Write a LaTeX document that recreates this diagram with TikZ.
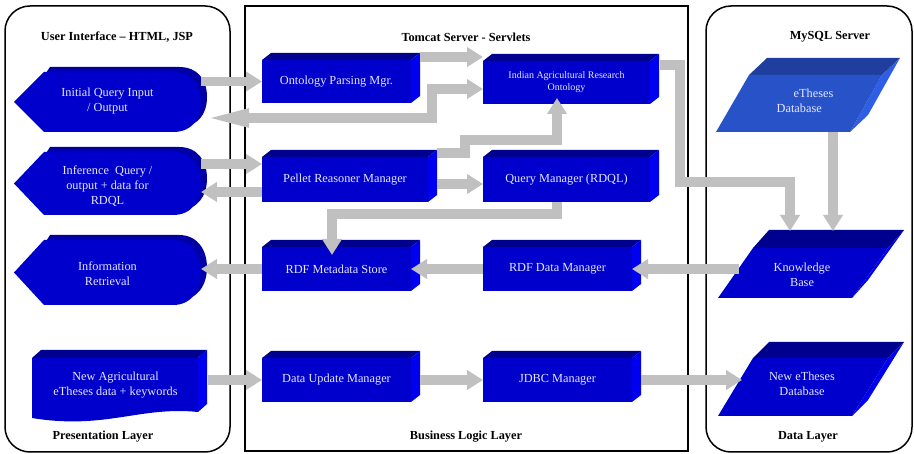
\documentclass[tikz,border=0pt]{standalone}
\usepackage{fontspec}
\setmainfont{Liberation Serif}
\usetikzlibrary{arrows.meta,calc,backgrounds}

\definecolor{boxfront}{HTML}{0000CC}
\definecolor{boxtop}{HTML}{00008E}
\definecolor{boxside}{HTML}{0000F0}
\definecolor{dispback}{HTML}{0000A6}
\definecolor{dbfront}{HTML}{2852C8}
\definecolor{dbtop}{HTML}{1F3E9E}
\definecolor{dbside}{HTML}{2E5EE6}
\definecolor{txt}{HTML}{E6E6FF}
\definecolor{flowgray}{HTML}{C0C0C0}

% display shape: pointed left end, rounded right end
% #1 tip x, #2 corner x, #3 right x, #4 top y, #5 bottom y, #6 colour
\newcommand\dispshape[6]{%
  \pgfmathsetmacro\dmid{(#4+#5)/2}%
  \fill[#6] (#1,\dmid) -- (#2,#4) -- (#3-28,#4)
    .. controls (#3-9,#4) and (#3,\dmid-17) .. (#3,\dmid)
    .. controls (#3,\dmid+17) and (#3-9,#5) .. (#3-28,#5)
    -- (#2,#5) -- cycle;}

\tikzset{
  flow/.style={line width=9.5pt, draw=flowgray, line join=miter,
    -{Triangle[length=16pt,width=19pt]}},
  box/.style={rectangle, fill=boxfront, text=txt, inner sep=0pt, outer sep=0pt,
    font=\fontsize{12.3}{15}\selectfont, align=center},
  tag/.style={rectangle, inner sep=0pt, outer sep=0pt, text=txt,
    font=\fontsize{12.3}{15}\selectfont, align=center},
  title/.style={font=\bfseries\fontsize{12.3}{15}\selectfont, inner sep=0pt},
  frame/.style={draw=black, line width=1.5pt},
}

\begin{document}
\begin{tikzpicture}[x=1pt,y=-1pt]
\useasboundingbox (0,0) rectangle (914,454);

% layer frames
\draw[frame, rounded corners=25pt] (5,6) rectangle (230,452);
\draw[frame, line width=1.9pt] (245,6) rectangle (688,451);
\draw[frame, rounded corners=25pt] (706,6) rectangle (912,452);

\node[title] (t1) at (117,37) {User Interface -- HTML, JSP};
\node[title] (t2) at (466,37) {Tomcat Server - Servlets};
\node[title] (t3) at (830,37) {MySQL Server};
\node[title] (b1) at (103,437) {Presentation Layer};
\node[title] (b2) at (466,437) {Business Logic Layer};
\node[title] (b3) at (808,437) {Data Layer};

% servlet components (front faces)
\node[box, minimum width=149pt, minimum height=43pt] (opm)  at (336.5,81.5) {Ontology Parsing Mgr.};
\node[box, minimum width=167pt, minimum height=43pt, font=\fontsize{10}{12}\selectfont] (iaro) at (566.5,82.5) {Indian Agricultural Research\\Ontology};
\node[box, minimum width=166pt, minimum height=45pt] (prm)  at (345,179.5) {Pellet Reasoner Manager};
\node[box, minimum width=167pt, minimum height=45pt] (qm)   at (566.5,179.5) {Query Manager (RDQL)};
\node[box, minimum width=149pt, minimum height=44pt] (rms)  at (336.5,269) {RDF Metadata Store};
\node[box, minimum width=149pt, minimum height=44pt] (rdm)  at (557.5,269) {RDF Data Manager};
\node[box, minimum width=149pt, minimum height=44pt] (dum)  at (336.5,380) {Data Update Manager};
\node[box, minimum width=149pt, minimum height=44pt] (jdbc) at (557.5,380) {JDBC Manager};

% depth faces of the components
\foreach \n in {opm,iaro,prm,qm,rms,rdm,dum,jdbc}{
  \fill[boxtop] (\n.north west) -- ++(9,-7) -- ($(\n.north east)+(9,-7)$) -- (\n.north east) -- cycle;
  \fill[boxside] (\n.north east) -- ++(9,-7) -- ($(\n.south east)+(9,-7)$) -- (\n.south east) -- cycle;
}

% user interface labels
\node[tag, minimum width=187pt] (iq)  at (107.5,101) {Initial Query Input\\/ Output};
\node[tag, minimum width=187pt] (inf) at (107.5,186) {Inference\ \ Query /\\output + data for\\RDQL};
\node[tag, minimum width=187pt] (ir)  at (107.5,274) {Information\\Retrieval};
\node[tag, minimum width=166pt] (na)  at (115.5,385) {New Agricultural\\eTheses data + keywords};

% database labels
\node[tag, align=left, minimum width=166pt, minimum height=64pt] (etdb) at (805,100.5) {\hspace*{17pt}eTheses\\Database};
\node[tag, minimum width=170pt, minimum height=46pt] (kb) at (802,275) {Knowledge\\Base};
\node[tag, minimum width=170pt] (netdb) at (802,384) {New eTheses\\Database};

\begin{scope}[on background layer]
  % display shapes
  \dispshape{30}{50}{207}{67}{127}{dispback}
  \dispshape{14}{44}{201}{72}{132}{boxfront}
  \dispshape{30}{50}{207}{147}{210}{dispback}
  \dispshape{14}{44}{201}{152}{215}{boxfront}
  \dispshape{30}{50}{207}{235}{300}{dispback}
  \dispshape{14}{44}{201}{240}{305}{boxfront}
  % document shape
  \fill[boxtop] (32,358) -- (41,350) -- (207,350) -- (198,358) -- cycle;
  \fill[boxside] (198,358) -- (207,350) -- (207,404) -- (198,412) -- cycle;
  \fill[boxfront] (32,358) -- (198,358) -- (198,412)
    .. controls (140,406) and (105,430) .. (32,418) -- cycle;
  % eTheses database
  \fill[dbtop] (749,75) -- (767,58) -- (900,58) -- (882,75) -- cycle;
  \fill[dbside] (882,75) -- (900,58) -- (868,115) -- (850,132) -- cycle;
  \fill[dbfront] (716,132) -- (850,132) -- (882,75) -- (749,75) -- cycle;
  % knowledge base
  \fill[boxtop] (753,248) -- (769,230) -- (904,230) -- (888,248) -- cycle;
  \fill[boxside] (888,248) -- (904,230) -- (868,280) -- (852,298) -- cycle;
  \fill[boxfront] (718,298) -- (852,298) -- (888,248) -- (753,248) -- cycle;
  % new eTheses database
  \fill[boxtop] (753,358) -- (769,342) -- (904,342) -- (888,358) -- cycle;
  \fill[boxside] (888,358) -- (904,342) -- (868,400) -- (852,416) -- cycle;
  \fill[boxfront] (718,416) -- (852,416) -- (888,358) -- (753,358) -- cycle;
\end{scope}

% connectors
\coordinate (c2) at ([yshift=-6.5pt]iaro.west);
\coordinate (c4) at ([yshift=15.5pt]prm.west);
\coordinate (c5) at ([yshift=-12.5pt]prm.west);
\coordinate (c7) at ([yshift=-4.5pt]qm.west);

\draw[flow] (iq.east |- opm.west) -- (opm.west);
\draw[flow, {Triangle[length=48pt,width=16pt]}-{Triangle[length=16pt,width=19pt]}]
  ([yshift=-17pt]iq.east) -- ++(231,0) |- (c2);
\draw[flow] ([xshift=9pt,yshift=3pt]opm.north east) -- ([yshift=4pt]iaro.north west);
\draw[flow] (inf.east |- c4) -- (c4);
\draw[flow] (c5) -- (inf.east |- c5);
\draw[flow] ([xshift=9pt,yshift=4pt]prm.north east) -- ++(28,0) -- ++(0,-13)
  -| ([xshift=-9.5pt,yshift=6pt]iaro.south);
\draw[flow] ($(prm.east |- c7)+(9,0)$) -- (c7);
\draw[flow] ([xshift=-9.5pt]qm.south) -- ++(0,12) -| ([xshift=-4.5pt,yshift=-8pt]rms.north);
\draw[flow] (rdm.west) -- (rms.east);
\draw[flow] (rms.west) -- (ir.east |- rms.west);
\draw[flow] ($(rdm.east -| kb.west)+(22,0)$) -- (rdm.east);
\draw[flow] ($(na.east |- dum.west)+(9,0)$) -- (dum.west);
\draw[flow] ($(dum.east)+(9,0)$) -- (jdbc.west);
\draw[flow] ($(jdbc.east)+(9,0)$) -- ($(jdbc.east -| netdb.west)+(25,0)$);
\draw[flow] ([xshift=10pt,yshift=17.5pt]iaro.east) -- ++(20,0) -- ++(0,117)
  -| ($(kb.north)+(-12,-21)$);
\draw[flow] ($(etdb.south)+(28,0)$) -- ($(kb.north)+(31,-21)$);
\end{tikzpicture}
\end{document}
